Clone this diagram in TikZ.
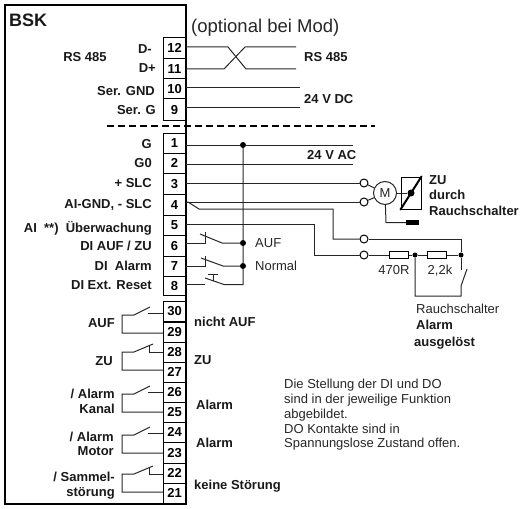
\documentclass[tikz,border=0pt]{standalone}
\usepackage{fontspec}
\setmainfont{Liberation Sans}
\tikzset{
  wire/.style={line width=1pt,black!85},
  klemme/.style={draw,line width=1pt,inner sep=0pt,minimum width=23pt,font=\bfseries\fontsize{13}{15}\selectfont,text height=9pt,text depth=0pt},
  lbl/.style={inner sep=0pt,font=\bfseries\fontsize{13}{15}\selectfont,text height=9.3pt,text depth=0pt,black!90},
  txt/.style={inner sep=0pt,font=\fontsize{13}{15}\selectfont,text height=9.3pt,text depth=0pt,black!85},
  dot/.style={circle,fill=black,inner sep=0pt,minimum size=6pt},
  kontakt/.style={circle,draw,line width=1pt,fill=white,inner sep=0pt,minimum size=8pt},
  widerstand/.style={draw,line width=1pt,inner sep=0pt,minimum width=19pt,minimum height=7pt}
}
\begin{document}
\begin{tikzpicture}[x=1pt,y=-1pt]
\useasboundingbox (0,0) rectangle (521,508);

\node[draw,line width=2pt,inner sep=0pt,minimum width=181pt,minimum height=498pt] (bsk) at (95.5,254.5) {};
\node[lbl,anchor=west,font=\bfseries\fontsize{18}{20}\selectfont,text height=13pt] (bsklabel) at (9,20) {BSK};
\node[anchor=west,inner sep=0pt,font=\fontsize{18.5}{20}\selectfont,black!85] (optional) at (191,28) {(optional bei Mod)};

\foreach \nr/\y/\h/\w in {12/48.5/21/47, 11/69/20/69, 10/89/20/88, 9/109.5/21/107,
  1/143/20/145, 2/163/20/164, 3/183.5/21/183, 4/204.5/21/202, 5/225/20/224, 6/245.5/21/243, 7/266/20/266, 8/285.5/19/284.5,
  30/311/20/313, 29/332/20/333, 28/352/20/352, 27/372/20/370, 26/392/20/392, 25/412/20/412, 24/432/20/433, 23/452.5/21/453, 22/473/20/474, 21/493/20/492}
{
  \node[klemme,minimum height=\h pt] (k\nr) at (174.5,\y) {\nr};
  \coordinate (w\nr) at (186,\w);
  \coordinate (i\nr) at (163,\w);
}

\node[lbl] (rsa) at (85,57) {RS 485};
\node[lbl,anchor=east] (dm) at (152,49) {D-};
\node[lbl,anchor=east] (dp) at (156,68) {D+};
\node[lbl,anchor=east] (sgnd) at (155,91) {Ser. GND};
\node[lbl,anchor=east] (sg) at (156,110) {Ser. G};
\node[lbl,anchor=east] (lg) at (152,144) {G};
\node[lbl,anchor=east] (lgn) at (152,163) {G0};
\node[lbl,anchor=east] (lslc) at (152,183) {+ SLC};
\node[lbl,anchor=east] (lai) at (152,204) {AI-GND, - SLC};
\node[lbl,anchor=east] (lue) at (152,228) {AI\ \ **)\ \ Überwachung};
\node[lbl,anchor=east] (ldi) at (152,246) {DI AUF / ZU};
\node[lbl,anchor=east] (lda) at (152,266) {DI\ \ Alarm};
\node[lbl,anchor=east] (lde) at (152,284.5) {DI Ext. Reset};

\node[lbl,anchor=east] (rauf) at (115,323) {AUF};
\node[lbl,anchor=east] (rzu) at (113,361) {ZU};
\node[lbl,anchor=east] (rak) at (115,394) {/ Alarm};
\node[lbl,anchor=east] (rkn) at (115,409) {Kanal};
\node[lbl,anchor=east] (ram) at (114,437) {/ Alarm};
\node[lbl,anchor=east] (rmo) at (114,451) {Motor};
\node[lbl,anchor=east] (rsm) at (115,477) {/ Sammel-};
\node[lbl,anchor=east] (rst) at (115,492) {störung};

\node[lbl,anchor=west] (nauf) at (194,322) {nicht AUF};
\node[lbl,anchor=west] (nzu) at (194,360) {ZU};
\node[lbl,anchor=west] (nak) at (196,405) {Alarm};
\node[lbl,anchor=west] (nam) at (196,443) {Alarm};
\node[lbl,anchor=west] (nst) at (194,485) {keine Störung};

\node[lbl,anchor=west] (rsb) at (304,57) {RS 485};
\node[lbl,anchor=west] (vdc) at (304,99) {24 V DC};
\node[lbl,anchor=west] (vac) at (307,155) {24 V AC};
\node[lbl,anchor=north west,align=left,text height=,text depth=,font=\bfseries\fontsize{13}{15.5}\selectfont] (zu) at (429,175) {ZU\\durch\\Rauchschalter};

\coordinate (t12) at (296,47);
\coordinate (t11) at (296,69);
\draw[wire] (w12) -- (228,47) -- (246,69) -- (t11);
\draw[wire] (w11) -- (224,69) -- (245,47) -- (t12);
\coordinate (t10) at (300,88);
\coordinate (t9) at (300,107);
\draw[wire] (w10) -- (t10);
\draw[wire] (w9) -- (t9);

\coordinate (d1) at (107,126);
\coordinate (d2) at (375,126);
\draw[line width=1.2pt,dash pattern=on 7pt off 4pt] (d1) -- (d2);

\coordinate (t1) at (353,145);
\coordinate (t2) at (353,164);
\node[dot] (j1) at (243,145) {};
\draw[wire] (w1) -- (j1) -- (t1);
\draw[wire] (w2) -- (t2);

\node[kontakt] (c3) at (364,183) {};
\node[kontakt] (c4) at (364,202) {};
\node[kontakt] (c5) at (364,239) {};
\node[kontakt] (c6) at (364,255) {};
\draw[wire] (w3) -- (c3);
\draw[wire] (w4) -- (c4);

\node[circle,draw,line width=1pt,inner sep=0pt,minimum size=23pt,font=\fontsize{13}{15}\selectfont,black!85] (m) at (385,193) {M};
\draw[wire] (c3) -- (m);
\draw[wire] (c4) -- (m);
\node[draw,line width=1pt,inner sep=0pt,minimum width=20pt,minimum height=32pt] (stell) at (411,193) {};
\node[dot,minimum size=7pt] (js) at (411,193) {};
\draw[wire] (m) -- (js);
\draw[line width=2pt,line cap=round] (stell.south west) -- (stell.north east);
\node[fill=black,inner sep=0pt,minimum width=13pt,minimum height=5pt] (block) at (412.5,222.5) {};
\draw[wire] (m) -- (386,222.5) -- (block);

\draw[wire] (w4) -- (188,202) -- (199,209) -- (333,209) -- (333,239) -- (c5);
\node[dot,minimum size=5pt] (j3) at (461,255) {};
\draw[wire] (c5) -- (461,239) -- (j3);
\draw[wire] (w5) -- (314,224) -- (314,255) -- (c6);

\node[widerstand] (r1) at (398.5,255) {};
\node[widerstand] (r2) at (436.5,255) {};
\node[dot,minimum size=5pt] (j2) at (415,255) {};
\draw[wire] (c6) -- (r1) -- (j2) -- (r2) -- (j3);
\coordinate (s1) at (461,270);
\coordinate (s2) at (461,286);
\coordinate (s3) at (467,269);
\draw[wire] (j3) -- (s1);
\draw[wire] (j2) -- (415,296) -- (461,296) -- (s2) -- (s3);
\node[txt] (lr1) at (394,270) {470R};
\node[txt] (lr2) at (440,270) {2,2k};
\node[txt,anchor=west] (lrs) at (416,309) {Rauchschalter};
\node[lbl,anchor=west] (lal) at (416,325) {Alarm};
\node[lbl,anchor=west] (lau) at (414,342) {ausgelöst};

\node[dot] (j6) at (243,243) {};
\node[dot] (j7) at (243,266) {};
\node[txt,anchor=west] (lauf) at (255,243) {AUF};
\node[txt,anchor=west] (lnor) at (255,266) {Normal};
\draw[wire] (j1) -- (j6) -- (j7) -- (243,284.5) -- (224,284.5) -- (205,278);
\draw[wire] (w6) -- (205,243) -- (205,232);
\draw[wire] (200,234) -- (222,243) -- (j6);
\draw[wire] (w7) -- (205,266) -- (205,256);
\draw[wire] (201,258) -- (223,266) -- (j7);
\draw[wire] (w8) -- (205,284.5);
\draw[wire] (213,281) -- (213,274);
\draw[wire] (208,274) -- (218,274);

\foreach \a/\b/\ya/\yb in {30/29/315/333, 26/25/394/412, 24/23/435/453}
{
  \draw[wire] (i\a) -- (148,\ya-2);
  \draw[wire] (i\b) -- (122,\yb) -- (122,\ya) -- (134,\ya) -- (150,\ya-8);
}
\foreach \a/\b/\ya/\yb in {28/27/352/370, 22/21/474/492}
{
  \draw[wire] (i\a) -- (149,\ya) -- (149,\ya-7);
  \draw[wire] (i\b) -- (122,\yb) -- (122,\ya) -- (134,\ya) -- (153,\ya-8);
}

\node[anchor=north west,inner sep=0pt,align=left,font=\fontsize{13}{14.8}\selectfont,black!85] (note) at (284,379) {Die Stellung der DI und DO\\sind in der jeweilige Funktion\\abgebildet.\\DO Kontakte sind in\\Spannungslose Zustand offen.};

\end{tikzpicture}
\end{document}
